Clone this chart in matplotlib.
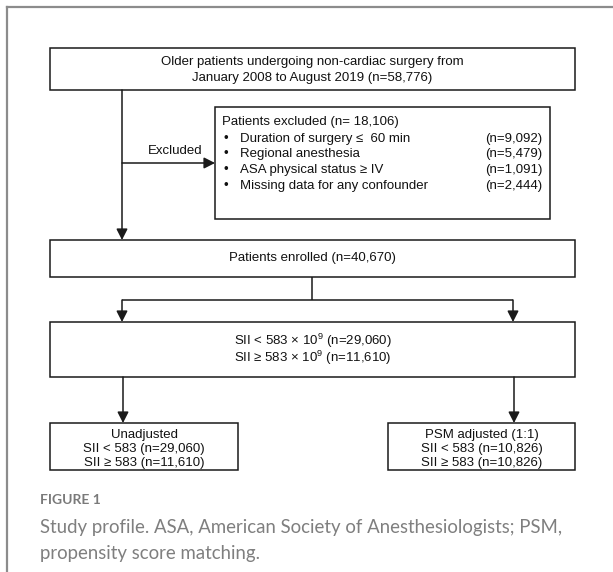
import matplotlib
matplotlib.use("Agg")
import matplotlib.pyplot as plt
from matplotlib.patches import Rectangle

plt.rcParams['font.family'] = ['Liberation Sans', 'DejaVu Sans']
plt.rcParams['mathtext.fontset'] = 'custom'
plt.rcParams['mathtext.rm'] = 'Liberation Sans'
plt.rcParams['mathtext.it'] = 'Liberation Sans:italic'

# ---- content ----
top_text = ["Older patients undergoing non-cardiac surgery from",
            "January 2008 to August 2019 (n=58,776)"]
excluded_label = "Excluded"
excluded_header = "Patients excluded (n= 18,106)"
excluded_items = ["Duration of surgery \u2264  60 min", "Regional anesthesia",
                  "ASA physical status \u2265 IV", "Missing data for any confounder"]
excluded_counts = ["(n=9,092)", "(n=5,479)", "(n=1,091)", "(n=2,444)"]
enrolled_text = "Patients enrolled (n=40,670)"
sii_text = [r"SII < 583 × 10$^{9}$ (n=29,060)", r"SII ≥ 583 × 10$^{9}$ (n=11,610)"]
left_text = ["Unadjusted", "SII < 583 (n=29,060)", "SII ≥ 583 (n=11,610)"]
right_text = ["PSM adjusted (1:1)", "SII < 583 (n=10,826)", "SII ≥ 583 (n=10,826)"]
fig_label = "FIGURE 1"
caption = ["Study profile. ASA, American Society of Anesthesiologists; PSM,",
           "propensity score matching."]

W, H = 613, 572
fig = plt.figure(figsize=(W / 100, H / 100), dpi=100)
ax = fig.add_axes([0, 0, 1, 1])
ax.set_xlim(0, W)
ax.set_ylim(H, 0)
ax.axis('off')

EC = '#1a1a1a'
TC = '#111111'
LW = 1.1
FS = 9.5


def box(x0, y0, x1, y1):
    ax.add_patch(Rectangle((x0, y0), x1 - x0, y1 - y0, fill=False, ec=EC, lw=LW))


def line(xs, ys):
    ax.plot(xs, ys, color=EC, lw=LW, solid_capstyle='butt')


def arrow(x0, y0, x1, y1):
    ax.annotate('', xy=(x1, y1), xytext=(x0, y0),
                arrowprops=dict(arrowstyle='-|>,head_length=0.55,head_width=0.28',
                                color=EC, lw=LW, shrinkA=0, shrinkB=0,
                                mutation_scale=12))


def txt(x, y, s, ha='center'):
    ax.text(x, y, s, ha=ha, va='center', fontsize=FS, color=TC)


# outer card frame
ax.plot([7, 7], [H, 7], color='#8c8c8c', lw=1.6)
ax.plot([7, W], [7, 7], color='#8c8c8c', lw=1.6)

# top box
box(50, 48, 575, 90)
txt(312.5, 62, top_text[0])
txt(312.5, 78, top_text[1])

# main vertical + excluded arrow
arrow(122, 90, 122, 240)
arrow(122, 163, 215, 163)
txt(175, 151, excluded_label)

# excluded box
box(215, 107, 550, 219)
txt(222, 122, excluded_header, ha='left')
for i, (item, cnt) in enumerate(zip(excluded_items, excluded_counts)):
    yy = 139 + i * 15.5
    txt(226, yy, "\u2022")
    txt(240, yy, item, ha='left')
    txt(542, yy, cnt, ha='right')

# enrolled box
box(50, 240, 575, 277)
txt(312.5, 258, enrolled_text)

# branch
line([312, 312], [277, 300])
line([122, 513], [300, 300])
arrow(122, 300, 122, 322)
arrow(513, 300, 513, 322)

# SII box
box(50, 322, 575, 377)
txt(312.5, 341, sii_text[0])
txt(312.5, 358, sii_text[1])

# lower arrows
arrow(123, 377, 123, 423)
arrow(514, 377, 514, 423)

# bottom boxes
box(50, 423, 238, 470)
box(388, 423, 575, 470)
for i in range(3):
    yy = 435 + i * 14
    txt(144, yy, left_text[i])
    txt(481.5, yy, right_text[i])

# caption
ax.text(40, 500, fig_label, ha='left', va='center', fontsize=10,
        color='#7a7a7a', family=['Lato', 'DejaVu Sans'], fontweight='bold')
ax.text(40, 527, caption[0], ha='left', va='center', fontsize=13.4,
        color='#7f7f7f', family=['Lato', 'DejaVu Sans'])
ax.text(40, 553, caption[1], ha='left', va='center', fontsize=13.4,
        color='#7f7f7f', family=['Lato', 'DejaVu Sans'])

fig.savefig('out.png', dpi=100)
